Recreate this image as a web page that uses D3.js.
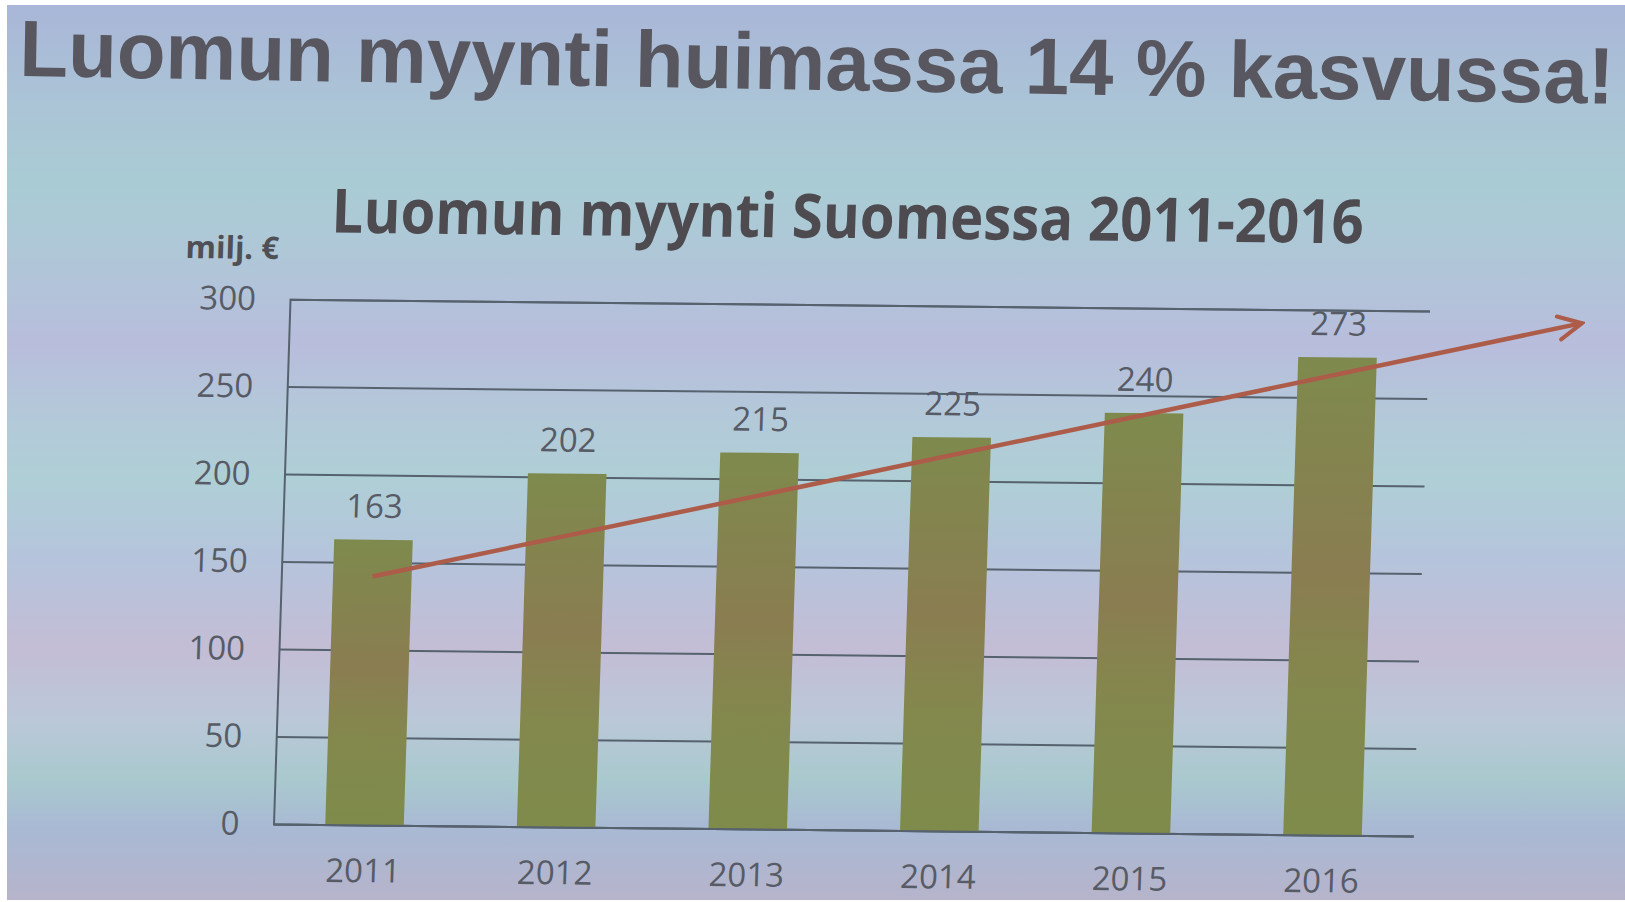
<!DOCTYPE html>
<html>
<head>
<meta charset="utf-8">
<script src="https://cdn.jsdelivr.net/npm/d3@7"></script>
<style>
  body { margin: 0; background: #fff; }
  svg { display: block; }
</style>
</head>
<body>
<div id="chart"></div>
<script>
// data
var years = ["2011", "2012", "2013", "2014", "2015", "2016"];
var sales = [163, 202, 215, 225, 240, 273];
var yTicks = [0, 50, 100, 150, 200, 250, 300];
// trend arrow, in bar-index units and milj. €
var trendIdx = [0, 6.27];
var trendVal = [142, 294];

var W = 1625, H = 902;
var margin = { top: 305, right: 203, bottom: 72, left: 282 },
    width = W - margin.left - margin.right,
    height = H - margin.top - margin.bottom;

var svg = d3.select("#chart")
    .append("svg")
    .attr("width", W)
    .attr("height", H);

var defs = svg.append("defs");

// projector background with its colour bands
var bg = defs.append("linearGradient")
    .attr("id", "bg").attr("x1", 0).attr("y1", 0).attr("x2", 0).attr("y2", 1);
[[0, "#a9b6d8"], [0.11, "#abc4d6"], [0.2, "#a9ccd4"], [0.29, "#b0c6d8"],
 [0.38, "#b8bddc"], [0.46, "#b3c9d9"], [0.53, "#afcfd6"], [0.62, "#b5c4dc"],
 [0.72, "#c3bdd5"], [0.8, "#bac8d8"], [0.865, "#a9c9ce"], [0.92, "#a9b9d4"],
 [1, "#b6b4cb"]].forEach(function (s) {
    bg.append("stop").attr("offset", s[0]).attr("stop-color", s[1]);
});

var barGrad = defs.append("linearGradient")
    .attr("id", "bar").attr("x1", 0).attr("y1", 0).attr("x2", 0).attr("y2", 1);
[[0, "#7e8a4d"], [0.45, "#8a7d51"], [0.7, "#83884d"], [1, "#7e8b4b"]].forEach(function (s) {
    barGrad.append("stop").attr("offset", s[0]).attr("stop-color", s[1]);
});

defs.append("marker")
    .attr("id", "arrow")
    .attr("viewBox", "0 0 10 10")
    .attr("refX", 9).attr("refY", 5)
    .attr("markerWidth", 6.5).attr("markerHeight", 6.5)
    .attr("markerUnits", "strokeWidth")
    .attr("orient", "auto")
    .append("path")
    .attr("d", "M1,1 L9,5 L1,9")
    .attr("fill", "none")
    .attr("stroke", "#ad5c4a")
    .attr("stroke-width", 1.4)
    .attr("stroke-linecap", "round");

svg.append("rect")
    .attr("x", 7).attr("y", 5)
    .attr("width", W - 7).attr("height", H - 7)
    .attr("fill", "url(#bg)");

// slide title
svg.append("text")
    .attr("x", 19).attr("y", 76)
    .attr("transform", "rotate(1.0, 19, 76)")
    .attr("textLength", 1595)
    .attr("lengthAdjust", "spacingAndGlyphs")
    .style("font-family", "'Liberation Sans', Arial, sans-serif")
    .style("font-weight", "bold")
    .style("font-size", "80px")
    .style("fill", "#58565f")
    .text("Luomun myynti huimassa 14 % kasvussa!");

// chart, skewed a little like the photo of the screen
var cx = 850, cy = 560;
var g = svg.append("g")
    .attr("transform", "translate(" + cx + "," + cy + ") skewY(0.6) skewX(-1.8) translate(" +
        (margin.left - cx) + "," + (margin.top - cy) + ")");

g.append("text")
    .attr("x", 321 - margin.left).attr("y", 238 - margin.top)
    .attr("textLength", 1032)
    .attr("lengthAdjust", "spacingAndGlyphs")
    .style("font-family", "'Open Sans', 'Noto Sans', sans-serif")
    .style("font-weight", "bold")
    .style("font-size", "61px")
    .style("fill", "#4d4b50")
    .text("Luomun myynti Suomessa 2011-2016");

g.append("text")
    .attr("x", 176 - margin.left).attr("y", 265 - margin.top)
    .style("font-family", "'Open Sans', sans-serif")
    .style("font-weight", "bold")
    .style("font-size", "31px")
    .style("fill", "#4f4f56")
    .text("milj. €");

var x = d3.scaleBand()
    .domain(years)
    .range([0, width])
    .paddingInner(0.59)
    .paddingOuter(0.27);

var y = d3.scaleLinear()
    .domain([0, 300])
    .range([height, 0]);

// index -> pixel, for the trend arrow
var xi = d3.scaleLinear()
    .domain([0, years.length - 1])
    .range([x(years[0]) + x.bandwidth() / 2, x(years[years.length - 1]) + x.bandwidth() / 2]);

// grid lines
var yAxis = d3.axisLeft(y)
    .tickValues(yTicks)
    .tickSize(-width)
    .tickPadding(34);
var ya = g.append("g").call(yAxis);
ya.select(".domain").attr("stroke", "#56626e").attr("stroke-width", 2);
ya.selectAll(".tick line").attr("stroke", "#56626e").attr("stroke-width", 2);
ya.selectAll(".tick text")
    .style("font-family", "'Open Sans', sans-serif")
    .style("font-size", "33px")
    .style("fill", "#575b66");

// bars
g.selectAll(".bar")
    .data(sales)
    .enter()
    .append("rect")
    .attr("class", "bar")
    .attr("x", function (d, i) { return x(years[i]); })
    .attr("y", function (d) { return y(d); })
    .attr("width", x.bandwidth())
    .attr("height", function (d) { return height - y(d); })
    .attr("fill", "url(#bar)");

// value labels
g.selectAll(".val")
    .data(sales)
    .enter()
    .append("text")
    .attr("class", "val")
    .attr("x", function (d, i) { return x(years[i]) + x.bandwidth() / 2; })
    .attr("y", function (d) { return y(d) - 22; })
    .attr("text-anchor", "middle")
    .style("font-family", "'Open Sans', sans-serif")
    .style("font-size", "33px")
    .style("fill", "#575b66")
    .text(function (d) { return d; });

// x axis
var xAxis = d3.axisBottom(x).tickSize(0).tickPadding(34);
var xa = g.append("g")
    .attr("transform", "translate(0," + height + ")")
    .call(xAxis);
xa.select(".domain").attr("stroke", "#56626e").attr("stroke-width", 2);
xa.selectAll(".tick text")
    .style("font-family", "'Open Sans', sans-serif")
    .style("font-size", "33px")
    .style("fill", "#575b66");

// trend arrow
g.append("line")
    .attr("x1", xi(trendIdx[0])).attr("y1", y(trendVal[0]))
    .attr("x2", xi(trendIdx[1])).attr("y2", y(trendVal[1]))
    .attr("stroke", "#ad5c4a")
    .attr("stroke-width", 4.5)
    .attr("marker-end", "url(#arrow)");
</script>
</body>
</html>
